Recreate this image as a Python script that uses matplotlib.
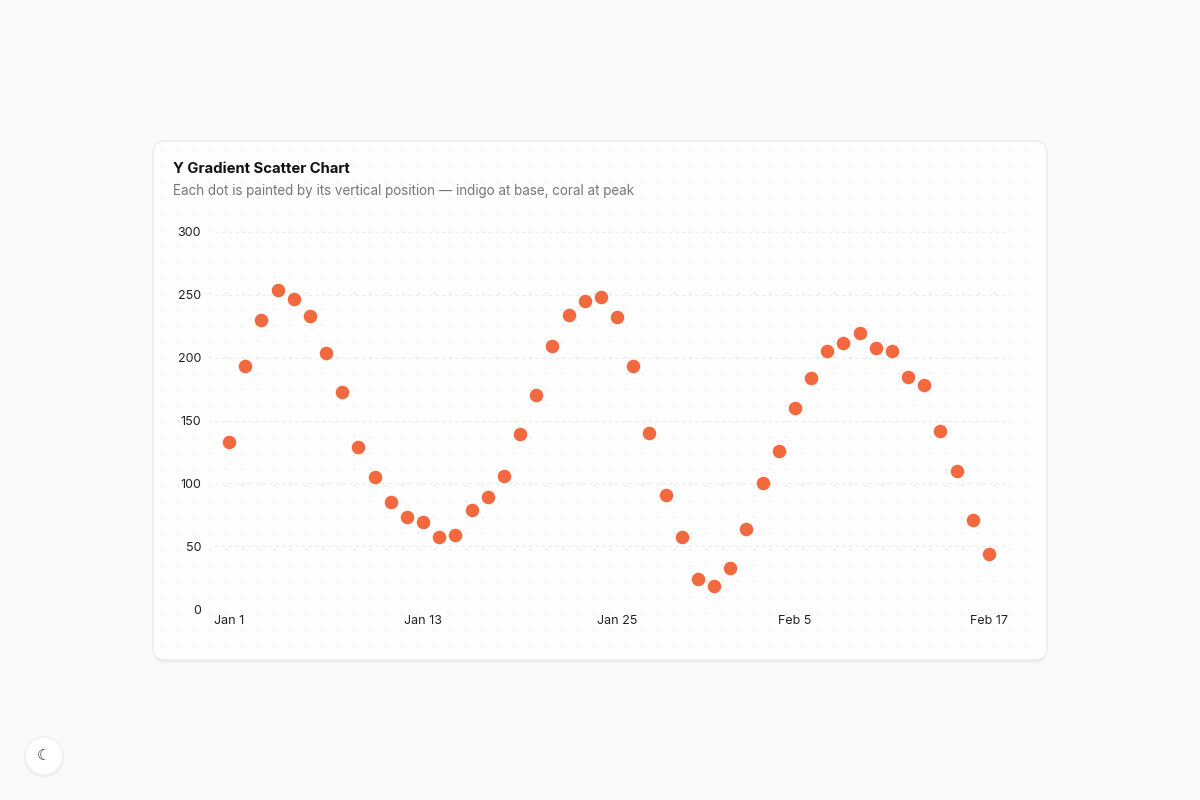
import matplotlib.pyplot as plt
import numpy as np
from matplotlib.patches import FancyBboxPatch, Circle

plt.rcParams['font.family'] = ['Inter', 'DejaVu Sans']

# values, one per day from Jan 1
day_index = list(range(48))
values = [133, 193, 230, 254, 247, 233, 204, 173, 129, 105, 85, 73,
          69, 57, 59, 79, 89, 106, 139, 170, 209, 234, 245, 248,
          232, 193, 140, 91, 57, 24, 18, 33, 64, 100, 126, 160,
          184, 205, 212, 220, 208, 205, 185, 178, 142, 110, 71, 44]
tick_days = [0, 12, 24, 35, 47]
tick_labels = ["Jan 1", "Jan 13", "Jan 25", "Feb 5", "Feb 17"]
y_ticks = [0, 50, 100, 150, 200, 250, 300]

W, H = 1200, 800
fig = plt.figure(figsize=(12, 8), dpi=100)
fig.patch.set_facecolor("#fafafa")

# background layer in pixel coordinates
bg = fig.add_axes([0, 0, 1, 1])
bg.set_xlim(0, W)
bg.set_ylim(H, 0)
bg.axis("off")

# card shadow + card
for off, a in [(3, 0.025), (2, 0.03)]:
    bg.add_patch(FancyBboxPatch((153, 141 + off), 894, 519, boxstyle="round,pad=0,rounding_size=12",
                                facecolor="#000000", alpha=a, edgecolor="none"))
bg.add_patch(FancyBboxPatch((153, 141), 894, 519, boxstyle="round,pad=0,rounding_size=12",
                            facecolor="#fefefe", edgecolor="#ebebeb", linewidth=1.0))

# dotted pattern on card
gx, gy = np.meshgrid(np.arange(162, 1040, 16), np.arange(149, 656, 16))
bg.scatter(gx.ravel(), gy.ravel(), s=1.2, color="#dcdcdc", linewidths=0)

bg.text(173, 169, "Y Gradient Scatter Chart", fontsize=10.7, fontweight="bold",
        color="#111111", va="center")
bg.text(173, 191, "Each dot is painted by its vertical position \u2014 indigo at base, coral at peak",
        fontsize=9.7, color="#777777", va="center")

# theme toggle button
bg.add_patch(Circle((44, 758), 20, facecolor="#000000", alpha=0.04, edgecolor="none"))
bg.add_patch(Circle((44, 756), 19, facecolor="#ffffff", edgecolor="#ededed", linewidth=1))
bg.text(44, 756, "\u263E", fontsize=11, color="#333333", ha="center", va="center",
        family=["DejaVu Sans"])

# chart axes: left 215px, right 1005px, top 232px, bottom 609px
ax = fig.add_axes([215 / W, 1 - 609 / H, 790 / W, 377 / H])
ax.patch.set_alpha(0)
x0 = (215 - 229) / 16.17
x1 = (1005 - 229) / 16.17
ax.set_xlim(x0, x1)
ax.set_ylim(0, 300)

for v in y_ticks[1:]:
    ax.axhline(v, color="#ebebeb", linewidth=0.8, linestyle=(0, (3, 3)), zorder=1)

ax.scatter(day_index, values, s=95, color="#f2683f", linewidths=0, zorder=3, clip_on=False)

ax.set_xticks(tick_days)
ax.set_xticklabels(tick_labels)
ax.set_yticks(y_ticks)
ax.tick_params(axis="both", length=0, labelsize=9, colors="#222222")
ax.tick_params(axis="x", pad=4)
ax.tick_params(axis="y", pad=10)
for s in ax.spines.values():
    s.set_visible(False)

fig.savefig("out.png", dpi=100, facecolor=fig.get_facecolor())
